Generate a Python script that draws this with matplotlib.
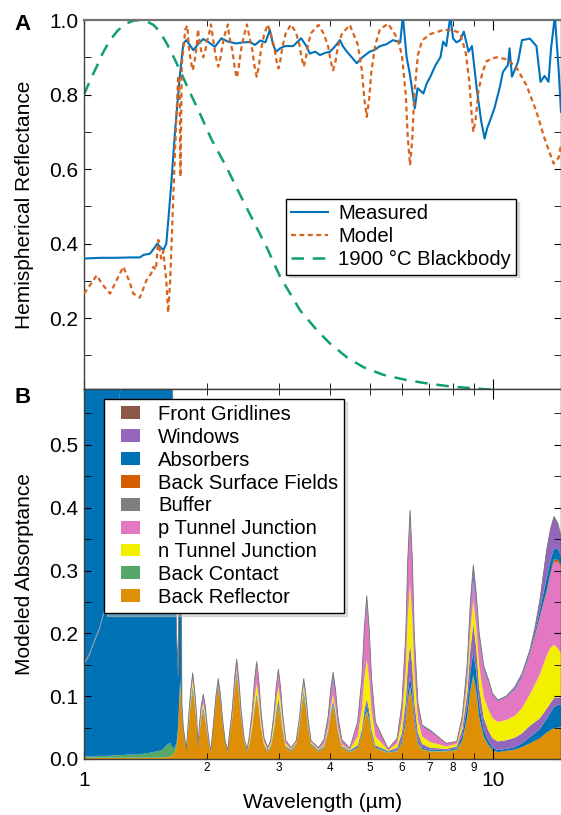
import matplotlib
matplotlib.use('Agg')
import matplotlib.pyplot as plt
import matplotlib.ticker as mticker
from matplotlib.patches import Patch
from matplotlib.legend_handler import HandlerPatch
import numpy as np

plt.rcParams['font.family'] = ['Liberation Sans', 'DejaVu Sans']

# ---------------- panel A : hemispherical reflectance ----------------
meas_wl = [1.00, 1.10, 1.20, 1.30, 1.37, 1.40, 1.45, 1.49, 1.51, 1.54, 1.565, 1.59, 1.61, 1.635, 1.67,
           1.70, 1.716, 1.75, 1.78, 1.81, 1.852, 1.90, 1.958, 2.02, 2.09, 2.17, 2.25, 2.36, 2.45, 2.55,
           2.62, 2.70, 2.78, 2.85, 2.90, 2.95, 3.02, 3.10, 3.25, 3.40, 3.50, 3.57, 3.68, 3.78, 3.90,
           4.00, 4.12, 4.23, 4.30, 4.40, 4.52, 4.65, 4.80, 5.00, 5.15, 5.30, 5.50, 5.70, 5.94, 6.03,
           6.10, 6.16, 6.26, 6.33, 6.45, 6.55, 6.77, 6.90, 7.04, 7.25, 7.45, 7.57, 7.70, 7.88, 8.00,
           8.15, 8.32, 8.50, 8.73, 8.90, 9.14, 9.38, 9.56, 9.70, 9.83, 10.1, 10.4, 10.6, 10.9, 11.0,
           11.15, 11.54, 11.8, 12.34, 12.8, 13.1, 13.4, 13.7, 13.9, 14.2, 14.5, 14.7]
meas_r = [0.360, 0.362, 0.362, 0.363, 0.363, 0.370, 0.373, 0.390, 0.400, 0.390, 0.383, 0.400, 0.470, 0.560, 0.700,
          0.800, 0.850, 0.937, 0.946, 0.935, 0.919, 0.935, 0.949, 0.940, 0.928, 0.951, 0.942, 0.937, 0.940, 0.941,
          0.933, 0.945, 0.940, 0.973, 0.935, 0.915, 0.924, 0.930, 0.930, 0.951, 0.930, 0.910, 0.915, 0.906, 0.912,
          0.915, 0.930, 0.946, 0.930, 0.915, 0.900, 0.884, 0.900, 0.915, 0.920, 0.930, 0.935, 0.946, 0.940, 1.010,
          0.950, 0.900, 0.860, 0.826, 0.763, 0.817, 0.803, 0.830, 0.848, 0.879, 0.900, 0.942, 0.930, 1.010, 0.951,
          0.940, 0.945, 0.969, 0.915, 0.930, 0.817, 0.727, 0.682, 0.710, 0.727, 0.763, 0.817, 0.861, 0.879, 0.924,
          0.848, 0.888, 0.946, 0.950, 0.930, 0.834, 0.850, 0.834, 0.924, 1.010, 0.870, 0.754]

model_wl = [1.00, 1.037, 1.074, 1.11, 1.158, 1.20, 1.248, 1.29, 1.32, 1.37, 1.42, 1.46, 1.478, 1.50, 1.52,
            1.545, 1.563, 1.59, 1.607, 1.625, 1.64, 1.67, 1.70, 1.715, 1.722, 1.735, 1.77, 1.79,
            1.805, 1.825, 1.845, 1.865, 1.886, 1.901,
            1.915, 1.935, 1.958, 1.981, 2.003, 2.030, 2.045,
            2.080, 2.105, 2.131, 2.157, 2.182, 2.215, 2.250,
            2.265, 2.307, 2.336, 2.364, 2.392, 2.421, 2.463, 2.505,
            2.535, 2.582, 2.614, 2.646, 2.678, 2.710, 2.757, 2.815,
            2.864, 2.918, 2.954, 2.990, 3.026, 3.062, 3.116, 3.210,
            3.305, 3.367, 3.409, 3.450, 3.491, 3.533, 3.595, 3.750,
            3.867, 3.960, 4.013, 4.070, 4.127, 4.180, 4.274, 4.470,
            4.674, 4.787, 4.851, 4.920, 4.989, 5.053, 5.166, 5.30, 5.55,
            5.84, 5.997, 6.129, 6.198, 6.28, 6.362, 6.431, 6.563, 6.72, 7.03, 7.6, 8.0,
            8.3, 8.43, 8.60, 8.77, 8.88, 8.97, 9.08, 9.23, 9.45, 9.67, 10.2, 10.8, 11.4, 12.1, 12.8,
            13.4, 14.1, 14.5, 14.7]
model_r = [0.266, 0.290, 0.315, 0.290, 0.266, 0.300, 0.338, 0.300, 0.266, 0.255, 0.300, 0.320, 0.338, 0.330, 0.410,
           0.360, 0.380, 0.300, 0.215, 0.300, 0.420, 0.650, 0.850, 0.800, 0.580, 0.880, 0.975, 0.985,
           0.928, 0.890, 0.865, 0.890, 0.928, 0.975,
           0.945, 0.918, 0.900, 0.918, 0.945, 0.970, 0.988,
           0.933, 0.898, 0.875, 0.898, 0.933, 0.965, 0.988,
           0.958, 0.918, 0.874, 0.845, 0.874, 0.918, 0.958, 0.988,
           0.959, 0.919, 0.876, 0.848, 0.876, 0.919, 0.959, 0.988,
           0.964, 0.930, 0.894, 0.870, 0.894, 0.930, 0.964, 0.988,
           0.965, 0.933, 0.898, 0.875, 0.898, 0.933, 0.965, 0.987,
           0.962, 0.928, 0.890, 0.865, 0.890, 0.928, 0.962, 0.987,
           0.935, 0.865, 0.790, 0.740, 0.790, 0.865, 0.935, 0.975, 0.990,
           0.952, 0.906, 0.800, 0.686, 0.610, 0.686, 0.800, 0.906, 0.945, 0.962, 0.974, 0.972,
           0.966, 0.945, 0.910, 0.834, 0.750, 0.700, 0.730, 0.810, 0.861, 0.890, 0.900, 0.895, 0.875, 0.825, 0.754,
           0.682, 0.615, 0.630, 0.665]

bb_wl = [1.00, 1.037, 1.074, 1.11, 1.158, 1.21, 1.272, 1.32, 1.37, 1.42, 1.478, 1.53, 1.594, 1.65, 1.716,
         1.80, 1.92, 2.05, 2.23, 2.40, 2.59, 2.80, 3.02, 3.38, 3.70, 4.0, 4.4, 4.82, 5.4, 6.16,
         7.0, 8.0, 8.95, 10.0]
bb_r = [0.80, 0.84, 0.875, 0.91, 0.946, 0.972, 0.991, 0.998, 1.0, 0.997, 0.987, 0.97, 0.937, 0.905, 0.866,
        0.815, 0.75, 0.68, 0.606, 0.535, 0.463, 0.39, 0.311, 0.221, 0.17, 0.132, 0.095, 0.069, 0.048, 0.034,
        0.024, 0.016, 0.012, 0.008]

# ---------------- panel B : modeled absorptance per layer ----------------
wl = [1.00, 1.03, 1.06, 1.09, 1.12, 1.15, 1.19, 1.23, 1.28, 1.35, 1.45, 1.55, 1.60, 1.625, 1.645, 1.665,
      1.685, 1.700, 1.710, 1.720, 1.728, 1.736, 1.750, 1.780,
      1.805, 1.825, 1.845, 1.865, 1.886, 1.901,
      1.915, 1.935, 1.958, 1.981, 2.003, 2.030, 2.045,
      2.080, 2.105, 2.131, 2.157, 2.182, 2.215, 2.250,
      2.265, 2.307, 2.336, 2.364, 2.392, 2.421, 2.463, 2.505,
      2.535, 2.582, 2.614, 2.646, 2.678, 2.710, 2.757, 2.815,
      2.864, 2.918, 2.954, 2.990, 3.026, 3.062, 3.116, 3.210,
      3.305, 3.367, 3.409, 3.450, 3.491, 3.533, 3.595, 3.750,
      3.867, 3.960, 4.013, 4.070, 4.127, 4.180, 4.274, 4.470,
      4.674, 4.787, 4.851, 4.920, 4.989, 5.053, 5.166, 5.550,
      5.84, 5.997, 6.129, 6.198, 6.28, 6.362, 6.431, 6.563, 6.72, 7.03, 7.70,
      8.17, 8.43, 8.67, 8.82, 8.97, 9.12, 9.27, 9.51, 9.75, 10.0, 10.3,
      10.8, 11.34, 11.8, 12.34, 12.7, 13.05, 13.56, 13.85, 14.13, 14.45, 14.70]

back_reflector = [0.002, 0.002, 0.002, 0.002, 0.002, 0.002, 0.002, 0.002, 0.002, 0.002, 0.002, 0.002,
                  0.003, 0.004, 0.006, 0.010, 0.020, 0.045, 0.090, 0.120, 0.100, 0.075, 0.045, 0.013,
                  0.054, 0.086, 0.107, 0.086, 0.054, 0.018,
                  0.038, 0.061, 0.076, 0.061, 0.038, 0.017, 0.012,
                  0.058, 0.093, 0.116, 0.093, 0.058, 0.026, 0.012,
                  0.029, 0.066, 0.106, 0.132, 0.106, 0.066, 0.029, 0.012,
                  0.021, 0.049, 0.078, 0.097, 0.078, 0.049, 0.021, 0.012,
                  0.018, 0.042, 0.067, 0.084, 0.067, 0.042, 0.018, 0.012,
                  0.022, 0.050, 0.080, 0.100, 0.080, 0.050, 0.022, 0.012,
                  0.018, 0.042, 0.067, 0.084, 0.067, 0.042, 0.018, 0.011,
                  0.017, 0.038, 0.061, 0.076, 0.061, 0.038, 0.017, 0.010,
                  0.012, 0.025, 0.057, 0.090, 0.113, 0.090, 0.057, 0.025, 0.015, 0.012, 0.012,
                  0.014, 0.029, 0.066, 0.106, 0.132, 0.106, 0.066, 0.035, 0.022, 0.014, 0.011,
                  0.013, 0.015, 0.019, 0.025, 0.029, 0.033, 0.042, 0.046, 0.049, 0.050, 0.051]
back_contact = [0.002, 0.002, 0.002, 0.003, 0.003, 0.003, 0.004, 0.004, 0.005, 0.005, 0.008, 0.012,
                0.020, 0.022, 0.012, 0.008, 0.006, 0.006, 0.006, 0.006, 0.005, 0.004, 0.003, 0.001,
                0.001, 0.002, 0.002, 0.002, 0.001, 0.001,
                0.001, 0.002, 0.002, 0.002, 0.001, 0.001, 0.001,
                0.001, 0.002, 0.002, 0.002, 0.001, 0.001, 0.001,
                0.001, 0.001, 0.002, 0.002, 0.002, 0.001, 0.001, 0.001,
                0.001, 0.001, 0.002, 0.002, 0.002, 0.001, 0.001, 0.001,
                0.001, 0.001, 0.002, 0.002, 0.002, 0.001, 0.001, 0.001,
                0.001, 0.001, 0.002, 0.002, 0.002, 0.001, 0.001, 0.001,
                0.001, 0.001, 0.002, 0.002, 0.002, 0.001, 0.001, 0.001,
                0.001, 0.001, 0.002, 0.002, 0.002, 0.001, 0.001, 0.001,
                0.001, 0.001, 0.001, 0.002, 0.002, 0.002, 0.001, 0.001, 0.001, 0.001, 0.001,
                0.001, 0.001, 0.001, 0.002, 0.002, 0.002, 0.001, 0.001, 0.001, 0.0, 0.0,
                0.0, 0.0, 0.0, 0.0, 0.0, 0.0, 0.0, 0.0, 0.0, 0.0, 0.0]
absorber_bottom = [0.146, 0.160, 0.182, 0.200, 0.228, 0.280, 0.400, 0.600, 0.850, 0.990, 0.990, 0.980,
                   0.970, 0.900, 0.600, 0.360, 0.170, 0.080, 0.300, 0.320, 0.300, 0.010, 0.002, 0.001,
                   0.002, 0.003, 0.004, 0.003, 0.002, 0.001,
                   0.002, 0.002, 0.003, 0.002, 0.002, 0.001, 0.001,
                   0.002, 0.002, 0.003, 0.002, 0.002, 0.001, 0.001,
                   0.001, 0.002, 0.002, 0.003, 0.002, 0.002, 0.001, 0.001,
                   0.001, 0.002, 0.002, 0.003, 0.002, 0.002, 0.001, 0.001,
                   0.001, 0.003, 0.004, 0.005, 0.004, 0.003, 0.001, 0.001,
                   0.001, 0.002, 0.003, 0.004, 0.003, 0.002, 0.001, 0.001,
                   0.001, 0.002, 0.003, 0.004, 0.003, 0.002, 0.001, 0.001,
                   0.002, 0.004, 0.006, 0.008, 0.006, 0.004, 0.002, 0.001,
                   0.001, 0.004, 0.008, 0.013, 0.016, 0.013, 0.008, 0.004, 0.002, 0.002, 0.001,
                   0.002, 0.008, 0.018, 0.030, 0.037, 0.030, 0.019, 0.010, 0.007, 0.004, 0.003,
                   0.003, 0.004, 0.006, 0.010, 0.012, 0.015, 0.022, 0.028, 0.034, 0.036, 0.036]
window_bottom = [0.0] * 24 + [
                 0.002, 0.002, 0.003, 0.002, 0.002, 0.0,
                 0.001, 0.002, 0.002, 0.002, 0.001, 0.0, 0.0,
                 0.001, 0.002, 0.002, 0.002, 0.001, 0.0, 0.0,
                 0.0, 0.001, 0.002, 0.002, 0.002, 0.001, 0.0, 0.0,
                 0.0, 0.001, 0.002, 0.002, 0.002, 0.001, 0.0, 0.001,
                 0.001, 0.003, 0.004, 0.005, 0.004, 0.003, 0.001, 0.001,
                 0.001, 0.002, 0.002, 0.003, 0.002, 0.002, 0.001, 0.001,
                 0.001, 0.002, 0.003, 0.004, 0.003, 0.002, 0.001, 0.001,
                 0.002, 0.005, 0.008, 0.010, 0.008, 0.005, 0.002, 0.001,
                 0.004, 0.012, 0.026, 0.042, 0.053, 0.042, 0.026, 0.012, 0.006, 0.003, 0.002,
                 0.003, 0.010, 0.022, 0.036, 0.045, 0.038, 0.028, 0.020, 0.016, 0.015, 0.014,
                 0.014, 0.015, 0.016, 0.018, 0.018, 0.017, 0.016, 0.015, 0.014, 0.012, 0.011]
buffer_layer = [0.004] * 18 + [0.0] * 107
n_tunnel = [0.0] * 24 + [
            0.005, 0.007, 0.009, 0.007, 0.005, 0.0,
            0.003, 0.005, 0.006, 0.005, 0.003, 0.001, 0.0,
            0.0, 0.0, 0.0, 0.0, 0.0, 0.0, 0.0,
            0.001, 0.002, 0.002, 0.003, 0.002, 0.002, 0.001, 0.0,
            0.004, 0.008, 0.013, 0.016, 0.013, 0.008, 0.004, 0.001,
            0.004, 0.010, 0.015, 0.019, 0.015, 0.010, 0.004, 0.001,
            0.002, 0.004, 0.006, 0.008, 0.006, 0.004, 0.002, 0.001,
            0.002, 0.004, 0.006, 0.008, 0.006, 0.004, 0.002, 0.001,
            0.014, 0.031, 0.050, 0.063, 0.050, 0.031, 0.014, 0.001,
            0.007, 0.021, 0.048, 0.077, 0.096, 0.077, 0.048, 0.021, 0.012, 0.009, 0.004,
            0.004, 0.008, 0.018, 0.030, 0.037, 0.034, 0.035, 0.034, 0.033, 0.032, 0.031,
            0.032, 0.035, 0.040, 0.050, 0.060, 0.070, 0.085, 0.088, 0.085, 0.078, 0.070]
p_tunnel = [0.0] * 24 + [
            0.005, 0.007, 0.009, 0.007, 0.005, 0.001,
            0.005, 0.009, 0.011, 0.009, 0.005, 0.002, 0.001,
            0.002, 0.002, 0.003, 0.002, 0.002, 0.001, 0.0,
            0.003, 0.007, 0.011, 0.014, 0.011, 0.007, 0.003, 0.001,
            0.007, 0.015, 0.025, 0.031, 0.025, 0.015, 0.007, 0.002,
            0.005, 0.012, 0.019, 0.024, 0.019, 0.012, 0.005, 0.002,
            0.001, 0.003, 0.005, 0.006, 0.005, 0.003, 0.001, 0.002,
            0.006, 0.013, 0.021, 0.026, 0.021, 0.013, 0.006, 0.002,
            0.020, 0.045, 0.071, 0.089, 0.071, 0.045, 0.020, 0.002,
            0.008, 0.023, 0.052, 0.082, 0.103, 0.082, 0.052, 0.025, 0.016, 0.017, 0.005,
            0.004, 0.007, 0.016, 0.026, 0.032, 0.035, 0.040, 0.042, 0.045, 0.037, 0.033,
            0.036, 0.042, 0.050, 0.065, 0.077, 0.090, 0.100, 0.115, 0.132, 0.137, 0.137]
back_surface = [0.0] * 114 + [0.0, 0.0, 0.0, 0.0, 0.001, 0.002, 0.003, 0.004, 0.004, 0.004, 0.003]
absorber_top = [0.850, 0.830, 0.810, 0.790, 0.760, 0.700, 0.580, 0.380, 0.130] + [0.0] * 15 + [
                0.001, 0.002, 0.002, 0.002, 0.001, 0.0,
                0.001, 0.002, 0.002, 0.002, 0.001, 0.0, 0.0,
                0.001, 0.001, 0.001, 0.001, 0.001, 0.0, 0.0,
                0.0, 0.001, 0.002, 0.002, 0.002, 0.001, 0.0, 0.0,
                0.0, 0.001, 0.002, 0.002, 0.002, 0.001, 0.0, 0.0,
                0.0, 0.001, 0.002, 0.002, 0.002, 0.001, 0.0, 0.0,
                0.0, 0.001, 0.002, 0.002, 0.002, 0.001, 0.0, 0.0,
                0.001, 0.002, 0.003, 0.004, 0.003, 0.002, 0.001, 0.0,
                0.001, 0.002, 0.003, 0.004, 0.003, 0.002, 0.001, 0.0,
                0.0, 0.001, 0.003, 0.005, 0.006, 0.005, 0.003, 0.001, 0.001, 0.001, 0.0,
                0.0, 0.002, 0.004, 0.006, 0.008, 0.006, 0.004, 0.002, 0.002, 0.001, 0.001,
                0.001, 0.002, 0.002, 0.003, 0.006, 0.010, 0.020, 0.020, 0.018, 0.017, 0.016]
window_top = [0.0] * 24 + [
              0.001, 0.001, 0.001, 0.001, 0.001, 0.0,
              0.001, 0.001, 0.001, 0.001, 0.001, 0.0, 0.0,
              0.0, 0.001, 0.001, 0.001, 0.0, 0.0, 0.0,
              0.0, 0.001, 0.001, 0.001, 0.001, 0.001, 0.0, 0.0,
              0.0, 0.001, 0.002, 0.002, 0.002, 0.001, 0.0, 0.0,
              0.0, 0.001, 0.002, 0.002, 0.002, 0.001, 0.0, 0.0,
              0.001, 0.002, 0.002, 0.003, 0.002, 0.002, 0.001, 0.0,
              0.001, 0.003, 0.005, 0.006, 0.005, 0.003, 0.001, 0.0,
              0.002, 0.004, 0.006, 0.008, 0.006, 0.004, 0.002, 0.0,
              0.0, 0.001, 0.003, 0.006, 0.007, 0.006, 0.003, 0.001, 0.001, 0.001, 0.0,
              0.0, 0.003, 0.008, 0.013, 0.016, 0.012, 0.008, 0.004, 0.002, 0.001, 0.001,
              0.001, 0.002, 0.003, 0.003, 0.007, 0.016, 0.045, 0.050, 0.050, 0.041, 0.030]

legend_labels = ['Front Gridlines', 'Windows', 'Absorbers', 'Back Surface Fields', 'Buffer',
                 'p Tunnel Junction', 'n Tunnel Junction', 'Back Contact', 'Back Reflector']

c_grid = '#8C564B'
c_win = '#9467BD'
c_abs = '#0072B5'
c_bsf = '#D55E00'
c_buf = '#7F7F7F'
c_ptj = '#E377C2'
c_ntj = '#F2F000'
c_cont = '#55A868'
c_refl = '#DE8F05'

FS = 15
LFS = 14.6

fig = plt.figure(figsize=(5.61, 8.15), dpi=100)
axA = fig.add_axes([84/561, 1-389/815, 477/561, 369/815])
axB = fig.add_axes([84/561, 1-759/815, 477/561, 370/815])

# --- A ---
axA.plot(bb_wl, bb_r, color='#109E74', lw=1.8, dashes=(5, 3.5), label='1900 °C Blackbody', zorder=2)
axA.plot(meas_wl, meas_r, color='#0072BD', lw=1.5, label='Measured', zorder=3)
axA.plot(model_wl, model_r, color='#D9631E', lw=1.6, dashes=(2.2, 1.6), label='Model', zorder=4)
axA.set_xscale('log')
axA.set_xlim(1, 14.7)
axA.set_ylim(0.01, 1.0)
axA.yaxis.set_major_locator(mticker.FixedLocator([0.2, 0.4, 0.6, 0.8, 1.0]))
axA.yaxis.set_minor_locator(mticker.FixedLocator([0.1, 0.3, 0.5, 0.7, 0.9]))
axA.yaxis.set_major_formatter(mticker.FormatStrFormatter('%.1f'))
axA.tick_params(axis='x', which='both', labelbottom=False, direction='in', top=True)
axA.tick_params(axis='x', which='major', length=7)
axA.tick_params(axis='x', which='minor', length=4)
axA.tick_params(axis='y', which='both', direction='in', right=True, length=5, labelsize=FS, pad=4)
axA.set_ylabel('Hemispherical Reflectance', fontsize=FS)
axA.yaxis.set_label_coords(-0.105, 0.5)
h, l = axA.get_legend_handles_labels()
order = [1, 2, 0]
legA = axA.legend([h[i] for i in order], [l[i] for i in order], loc='upper left',
                  bbox_to_anchor=(0.4235, 0.515), borderaxespad=0, fontsize=LFS,
                  handlelength=1.82, handletextpad=0.5, labelspacing=0.2, borderpad=0.26,
                  fancybox=False, framealpha=1, edgecolor='black', shadow={'color': '0.75'})
legA.get_frame().set_linewidth(1.0)

# --- B ---
layers = [back_reflector, back_contact, absorber_bottom, window_bottom, buffer_layer,
          n_tunnel, p_tunnel, back_surface, absorber_top, window_top]
layer_colors = [c_refl, c_cont, c_abs, c_win, c_buf, c_ntj, c_ptj, c_bsf, c_abs, c_win]
axB.stackplot(wl, *layers, colors=layer_colors, linewidth=0)
total = np.sum(np.array(layers), axis=0)
axB.plot(wl, total, color='0.45', lw=0.6)
axB.set_xscale('log')
axB.set_xlim(1, 14.7)
axB.set_ylim(0, 0.589)
axB.yaxis.set_major_locator(mticker.MultipleLocator(0.1))
axB.yaxis.set_minor_locator(mticker.MultipleLocator(0.05))
axB.yaxis.set_major_formatter(mticker.FormatStrFormatter('%.1f'))
axB.xaxis.set_major_formatter(mticker.FuncFormatter(lambda v, p: f'{v:g}'))
axB.xaxis.set_minor_formatter(mticker.FuncFormatter(lambda v, p: f'{v:g}' if v < 10 else ''))
axB.tick_params(axis='x', which='both', direction='in', top=True)
axB.tick_params(axis='x', which='major', length=7, labelsize=FS, pad=9)
axB.tick_params(axis='x', which='minor', length=4, labelsize=8.5, pad=2)
axB.tick_params(axis='y', which='both', direction='in', right=True, length=5, labelsize=FS, pad=4)
axB.set_ylabel('Modeled Absorptance', fontsize=FS)
axB.yaxis.set_label_coords(-0.105, 0.5)
axB.set_xlabel('Wavelength (µm)', fontsize=FS)
axB.xaxis.set_label_coords(0.5, -0.092)

legend_colors = [c_grid, c_win, c_abs, c_bsf, c_buf, c_ptj, c_ntj, c_cont, c_refl]
patches = [Patch(facecolor=c, edgecolor='none') for c in legend_colors]
legB = axB.legend(patches, legend_labels, loc='upper left', bbox_to_anchor=(0.042, 0.973),
                  borderaxespad=0, fontsize=LFS, handlelength=1.48, handleheight=0.6,
                  handletextpad=0.88, labelspacing=0.19, borderpad=0.3,
                  fancybox=False, framealpha=1, edgecolor='black', shadow={'color': '0.75'},
                  handler_map={Patch: HandlerPatch(xpad=0.54)})
legB.get_frame().set_linewidth(1.0)

for ax in (axA, axB):
    for s in ax.spines.values():
        s.set_color('0.25')
        s.set_linewidth(1.0)
axA.spines['top'].set_color('0.45')
axA.spines['top'].set_linewidth(1.6)

fig.text(14/561, 1-30/815, 'A', fontsize=16, fontweight='bold', va='baseline')
fig.text(14/561, 1-403/815, 'B', fontsize=16, fontweight='bold', va='baseline')

fig.savefig('out.png', dpi=100)
